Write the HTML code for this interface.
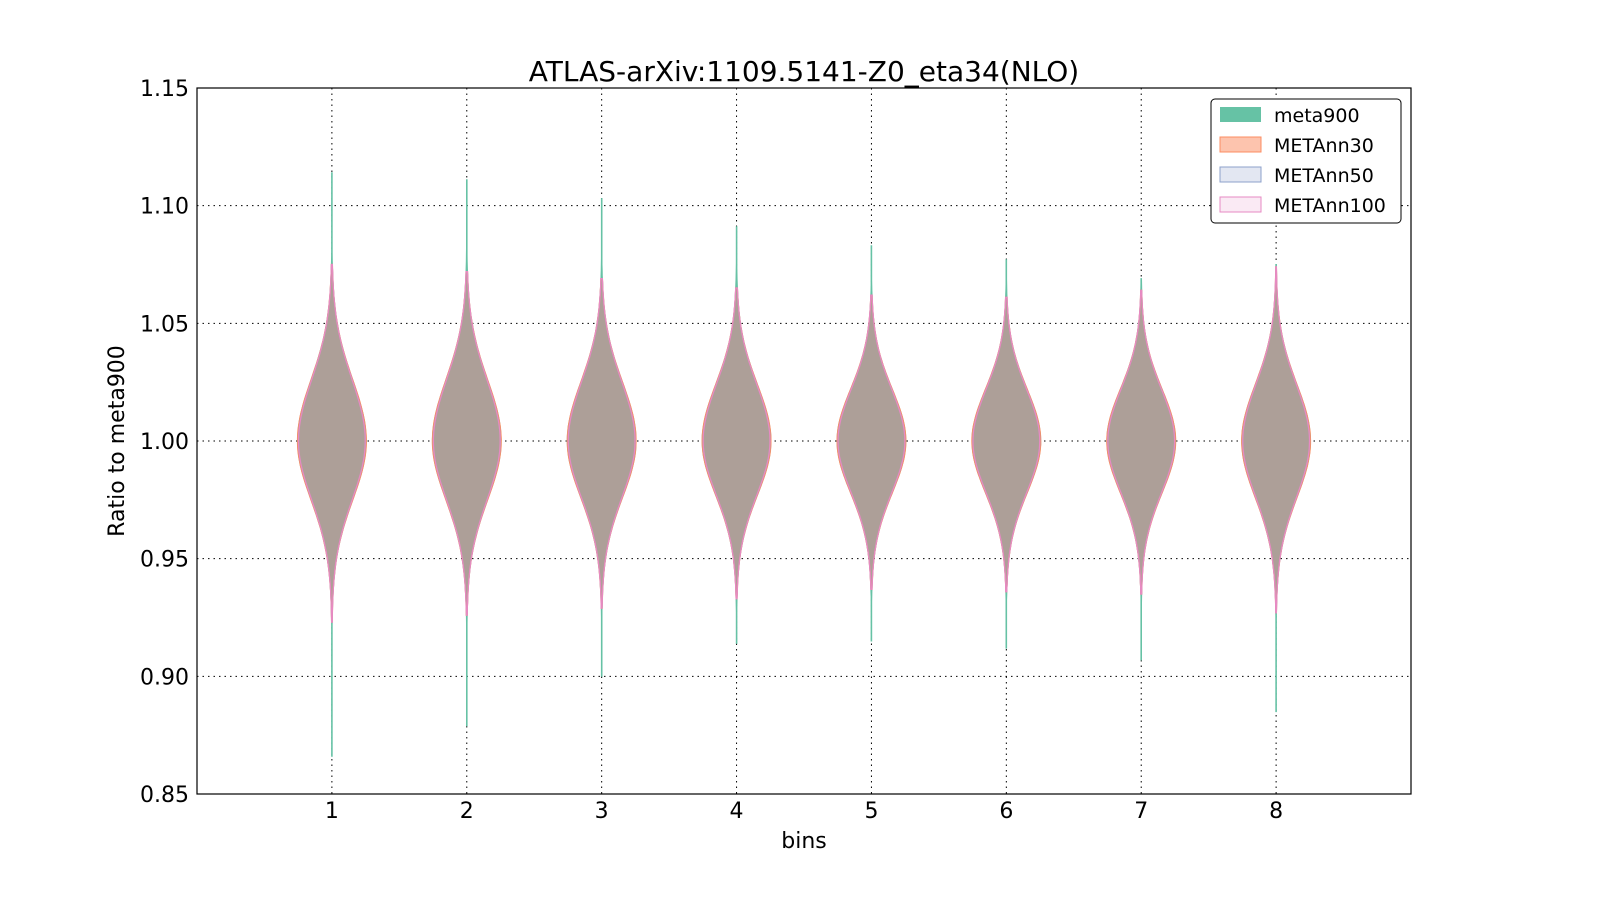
<!DOCTYPE html>
<html><head><meta charset="utf-8"><style>
html,body{margin:0;padding:0;background:#fff;overflow:hidden;width:1600px;height:900px;}
svg{display:block;}
svg text{font-family:"DejaVu Sans","Liberation Sans",sans-serif;}
</style></head><body>
<svg id="chart" width="1600" height="900" xmlns="http://www.w3.org/2000/svg">
<rect width="1600" height="900" fill="#fff"/>
<text x="804" y="81" font-size="28" text-anchor="middle">ATLAS-arXiv:1109.5141-Z0_eta34(NLO)</text>
<g id="grid"></g>
<g id="violins"></g>
<rect x="197" y="88" width="1214" height="706" fill="none" stroke="#000" stroke-width="1.2"/>
<g id="ticks"></g>
<text x="804" y="848" font-size="22" text-anchor="middle">bins</text>
<text transform="translate(124,441) rotate(-90)" font-size="22" text-anchor="middle">Ratio to meta900</text>
<g>
<rect x="1211" y="99" width="190" height="124" rx="4" fill="#fff" stroke="#000" stroke-width="1"/>
<rect x="1220" y="107" width="41" height="15" fill="#66c2a5"/>
<text x="1274" y="122" font-size="19">meta900</text>
<rect x="1220" y="137" width="41" height="15" fill="#fdc4ae" stroke="#fc8d62"/>
<text x="1274" y="152" font-size="19">METAnn30</text>
<rect x="1220" y="167" width="41" height="15" fill="#e3e7f2" stroke="#8da0cb"/>
<text x="1274" y="182" font-size="19">METAnn50</text>
<rect x="1220" y="197" width="41" height="15" fill="#faeaf4" stroke="#e78ac3"/>
<text x="1274" y="212" font-size="19">METAnn100</text>
</g>
</svg>
<script>
const bins = [1,2,3,4,5,6,7,8];
const yTicks = [0.85,0.90,0.95,1.00,1.05,1.10,1.15];
const yTickLabels = ["0.85","0.90","0.95","1.00","1.05","1.10","1.15"];
const greenMin = [0.866,0.879,0.900,0.914,0.915,0.912,0.907,0.885];
const greenMax = [1.114,1.111,1.103,1.091,1.083,1.077,1.069,1.075];
const annMin = [0.923,0.926,0.929,0.933,0.937,0.936,0.935,0.927];
const annMax = [1.075,1.072,1.069,1.065,1.062,1.061,1.064,1.074];
const centers = [1.000,1.000,1.000,1.000,1.000,1.000,1.000,1.000];
const spreadUp = [0.026,0.026,0.025,0.024,0.022,0.022,0.022,0.024];
const spreadDown = [0.025,0.025,0.024,0.023,0.022,0.022,0.022,0.024];

const NS="http://www.w3.org/2000/svg";
const X0=197,X1=1411,Y0=88,Y1=794;
const xs=v=>X0+(v-0)/(9-0)*(X1-X0);
const ys=v=>Y1-(v-0.85)/(0.30)*(Y1-Y0);
const HW=0.255;
function mk(t,a,p){const e=document.createElementNS(NS,t);for(const k in a)e.setAttribute(k,a[k]);p.appendChild(e);return e;}
const grid=document.getElementById('grid'),ticks=document.getElementById('ticks'),vg=document.getElementById('violins');
yTicks.forEach((t,i)=>{
  if(i>0&&i<yTicks.length-1){const l=mk('line',{x1:X0,x2:X1,y1:ys(t),y2:ys(t),stroke:'#000','stroke-dasharray':'1.5,4','stroke-width':1},grid);
  
  }
  const tx=mk('text',{x:X0-8,y:ys(t)+8,'font-size':22,'text-anchor':'end'},ticks);tx.textContent=yTickLabels[i];
  
  
});
bins.forEach(b=>{
  const l=mk('line',{x1:xs(b),x2:xs(b),y1:Y0,y2:Y1,stroke:'#000','stroke-dasharray':'1.5,4','stroke-width':1},grid);
  
  
  const tx=mk('text',{x:xs(b),y:Y1+24,'font-size':22,'text-anchor':'middle'},ticks);tx.textContent=String(b);
  
  
});
function violinPath(i,lo,hi,scale){
  const c=centers[i],cx=xs(bins[i]),unit=(X1-X0)/9;
  const pts=[];const N=80;
  for(let k=0;k<=N;k++){const v=lo+(hi-lo)*k/N;const s=v>c?spreadUp[i]:spreadDown[i];
    const w=Math.max(0.3,HW*scale*unit*Math.exp(-0.5*Math.pow((v-c)/s,2)));pts.push([v,w]);}
  let d='M'+pts.map(p=>(cx+p[1]).toFixed(1)+','+ys(p[0]).toFixed(1)).join(' L');
  d+=' L'+pts.reverse().map(p=>(cx-p[1]).toFixed(1)+','+ys(p[0]).toFixed(1)).join(' L')+' Z';
  return d;
}
bins.forEach((b,i)=>{
  const g=mk('g',{},vg);
  
  
  const gr=mk('path',{d:violinPath(i,greenMin[i],greenMax[i],1.0),fill:'#66c2a5',stroke:'#66c2a5','stroke-width':1},g);
  
  
  const o=mk('path',{d:violinPath(i,annMin[i],annMax[i],1.0),fill:'#ad9f98',stroke:'#fc8d62','stroke-width':1.2},g);
  
  
  const bl=mk('path',{d:violinPath(i,annMin[i],annMax[i],0.98),fill:'none',stroke:'#8da0cb','stroke-width':1,'stroke-opacity':0.6},g);
  
  
  const pk=mk('path',{d:violinPath(i,annMin[i],annMax[i],0.97),fill:'none',stroke:'#e78ac3','stroke-width':1.2},g);
  
  
});
</script>
</body></html>
